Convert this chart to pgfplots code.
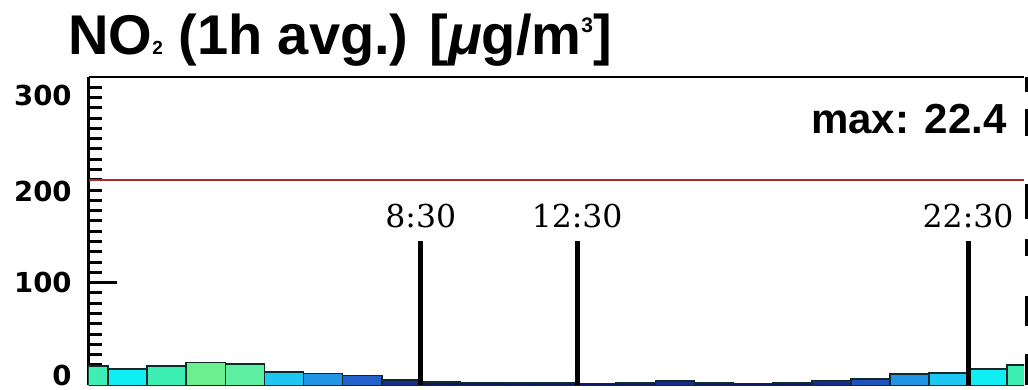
\documentclass[border=0pt]{standalone}
\usepackage{pgfplots}
\pgfplotsset{compat=1.18}
\usepackage{fontspec}
\setmainfont{Liberation Sans}
\newfontfamily\djb{DejaVu Sans}
\newfontfamily\djserif{DejaVu Serif}
\definecolor{cGreen}{HTML}{6CF08E}
\definecolor{cGreenB}{HTML}{5EF0A2}
\definecolor{cAqua}{HTML}{3EEFB4}
\definecolor{cCyan}{HTML}{10EEF4}
\definecolor{cSky}{HTML}{1EC6F2}
\definecolor{cMid}{HTML}{2294E4}
\definecolor{cBlue}{HTML}{2260CC}
\definecolor{cBlueB}{HTML}{2052BE}
\definecolor{cNavy}{HTML}{1A2C8C}
\definecolor{cDark}{HTML}{0C1668}
\definecolor{barline}{HTML}{0F2A2A}
\definecolor{limred}{HTML}{B02828}
\begin{document}
\begin{tikzpicture}
\path[use as bounding box] (-44.25pt,-2.25pt) rectangle (469.75pt,192.75pt);
\begin{axis}[
  at={(0,0)}, anchor=south west,
  scale only axis, width=467.75pt, height=154.25pt,
  xmin=0, xmax=23.93, ymin=0, ymax=300,
  axis y line*=left,
  xtick=\empty,
  ytick={100},
  yticklabels={},
  minor ytick={10,20,30,40,50,60,70,80,90,110,120,130,140,150,160,170,180,190,200,210,220,230,240,250,260,270,280,290},
  tick align=inside,
  major tick length=14pt, minor tick length=6.5pt,
  every tick/.style={black, line width=1.5pt},
  separate axis lines,
  x axis line style={black, line width=1pt},
  y axis line style={black, line width=1.5pt},
  clip mode=individual,
  mybar/.style={ybar, bar width=1, bar shift=0pt, draw=barline, line width=0.8pt},
]
% hourly NO2 values, coloured by level
\addplot[mybar, fill=cAqua] coordinates {(0,19.2) (2,19.2) (24,19.9)};
\addplot[mybar, fill=cCyan] coordinates {(1,16.0) (23,16.0)};
\addplot[mybar, fill=cGreen] coordinates {(3,22.4)};
\addplot[mybar, fill=cGreenB] coordinates {(4,20.9)};
\addplot[mybar, fill=cSky] coordinates {(5,13.1) (22,12.4)};
\addplot[mybar, fill=cMid] coordinates {(6,11.8) (21,10.9)};
\addplot[mybar, fill=cBlue] coordinates {(7,9.9)};
\addplot[mybar, fill=cBlueB] coordinates {(20,6.5)};
\addplot[mybar, fill=cNavy] coordinates {(8,5.3) (15,4.5) (19,4.8)};
\addplot[mybar, fill=cDark] coordinates {(9,3.5) (10,3.0) (11,2.5) (12,2.5) (13,2.0) (14,2.5) (16,2.5) (17,2.0) (18,2.5)};
% limit line
\addplot[draw=limred, line width=0.7pt] coordinates {(0,200) (23.93,200)};
% event lines
\addplot[black, line width=2.5pt] coordinates {(8.5,0) (8.5,141)};
\addplot[black, line width=2.5pt] coordinates {(12.5,0) (12.5,141)};
\addplot[black, line width=2.5pt] coordinates {(22.5,0) (22.5,141)};
\node[anchor=base, inner sep=0, font=\djserif\fontsize{15.75}{16}\selectfont] at (axis cs:8.5,154) {8:30};
\node[anchor=base, inner sep=0, font=\djserif\fontsize{15.75}{16}\selectfont] at (axis cs:12.5,154) {12:30};
\node[anchor=base, inner sep=0, font=\djserif\fontsize{15.75}{16}\selectfont] at (axis cs:22.5,154) {22:30};
% max text
\node[anchor=base east, inner sep=0, font=\bfseries\fontsize{21}{22}\selectfont] at (axis cs:23.5,245) {max:\hspace{8pt}22.4};
% y tick labels
\node[anchor=east, inner sep=0, font=\djb\bfseries\fontsize{13.75}{14}\selectfont] at ([xshift=-8.25pt]axis cs:0,282) {300};
\node[anchor=east, inner sep=0, font=\djb\bfseries\fontsize{13.75}{14}\selectfont] at ([xshift=-8.25pt]axis cs:0,189) {200};
\node[anchor=east, inner sep=0, font=\djb\bfseries\fontsize{13.75}{14}\selectfont] at ([xshift=-8.25pt]axis cs:0,100) {100};
\node[anchor=east, inner sep=0, font=\djb\bfseries\fontsize{13.75}{14}\selectfont] at ([xshift=-8.25pt]axis cs:0,10) {0};
% title
\node[anchor=base west, inner sep=0, font=\bfseries\fontsize{28}{30}\selectfont] at ([xshift=-10.3pt, yshift=11pt]rel axis cs:0,1)
  {NO{\fontsize{9.5}{10}\selectfont 2} (1h avg.) [{\itshape μ}g/m\raisebox{11pt}{\fontsize{10.5}{11}\selectfont 3}]};
\coordinate (TR) at (rel axis cs:1,1);
\coordinate (BR) at (rel axis cs:1,0);
\end{axis}
\draw[black, line width=2pt, dash pattern=on 7.5pt off 8.5pt on 13.5pt off 24pt on 17.5pt off 10pt on 8.5pt off 20pt on 15pt off 14pt on 16pt off 5pt]
  ([xshift=1.5pt]TR) -- ([xshift=1.5pt]BR);
\end{tikzpicture}
\end{document}
